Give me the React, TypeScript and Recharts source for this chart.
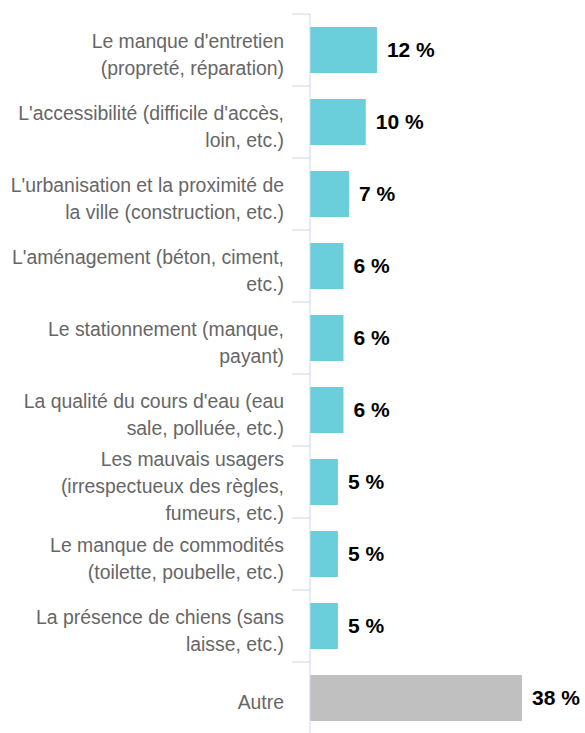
import { BarChart, Bar, XAxis, YAxis, Cell, LabelList } from "recharts";

const categories = [
  "Le manque d'entretien\n(propreté, réparation)",
  "L'accessibilité (difficile d'accès,\nloin, etc.)",
  "L'urbanisation et la proximité de\nla ville (construction, etc.)",
  "L'aménagement (béton, ciment,\netc.)",
  "Le stationnement (manque,\npayant)",
  "La qualité du cours d'eau (eau\nsale, polluée, etc.)",
  "Les mauvais usagers\n(irrespectueux des règles,\nfumeurs, etc.)",
  "Le manque de commodités\n(toilette, poubelle, etc.)",
  "La présence de chiens (sans\nlaisse, etc.)",
  "Autre",
];

const values = [12, 10, 7, 6, 6, 6, 5, 5, 5, 38];

const colors = [
  "#6acfdb", "#6acfdb", "#6acfdb", "#6acfdb", "#6acfdb",
  "#6acfdb", "#6acfdb", "#6acfdb", "#6acfdb", "#c0c0c0",
];

const data = categories.map((name, i) => ({ name, value: values[i] }));

const WIDTH = 585;
const HEIGHT = 734;
const TOP = 14;
const BAND = (HEIGHT - TOP) / categories.length;
const AXIS_COLOR = "#ccd6eb";

function CategoryTick(props: any) {
  const { x, y, payload, index } = props;
  const lines = String(payload.value).split("\n");
  const n = lines.length;
  return (
    <g>
      <line x1={x - 18} x2={x} y1={y - BAND / 2} y2={y - BAND / 2} stroke={AXIS_COLOR} strokeWidth={1} />
      {index === categories.length - 1 && (
        <line x1={x - 18} x2={x} y1={y + BAND / 2} y2={y + BAND / 2} stroke={AXIS_COLOR} strokeWidth={1} />
      )}
      <text x={x - 26} y={y} textAnchor="end" fill="#666666" fontSize={19.4}>
        {lines.map((l, i) => (
          <tspan key={i} x={x - 26} y={y + 11 + (i - (n - 1) / 2) * 27}>
            {l}
          </tspan>
        ))}
      </text>
    </g>
  );
}

export default function App() {
  return (
    <div style={{ fontFamily: "'Liberation Sans', Arial, sans-serif", background: "#fff" }}>
      <style>{`body{margin:0}`}</style>
      <BarChart
        width={WIDTH}
        height={HEIGHT}
        data={data}
        layout="vertical"
        margin={{ top: TOP, right: 24, bottom: 0, left: 0 }}
      >
        <XAxis type="number" domain={[0, 45]} hide />
        <YAxis
          type="category"
          dataKey="name"
          width={310}
          axisLine={{ stroke: AXIS_COLOR }}
          tickLine={false}
          tickSize={0}
          tickMargin={0}
          interval={0}
          tick={<CategoryTick />}
        />
        <Bar dataKey="value" barSize={46} isAnimationActive={false}>
          {data.map((d, i) => (
            <Cell key={d.name} fill={colors[i]} />
          ))}
          <LabelList
            dataKey="value"
            position="right"
            offset={10}
            formatter={(v: any) => `${v} %`}
            fill="#000"
            fontSize={21}
            fontWeight="bold"
          />
        </Bar>
      </BarChart>
    </div>
  );
}
